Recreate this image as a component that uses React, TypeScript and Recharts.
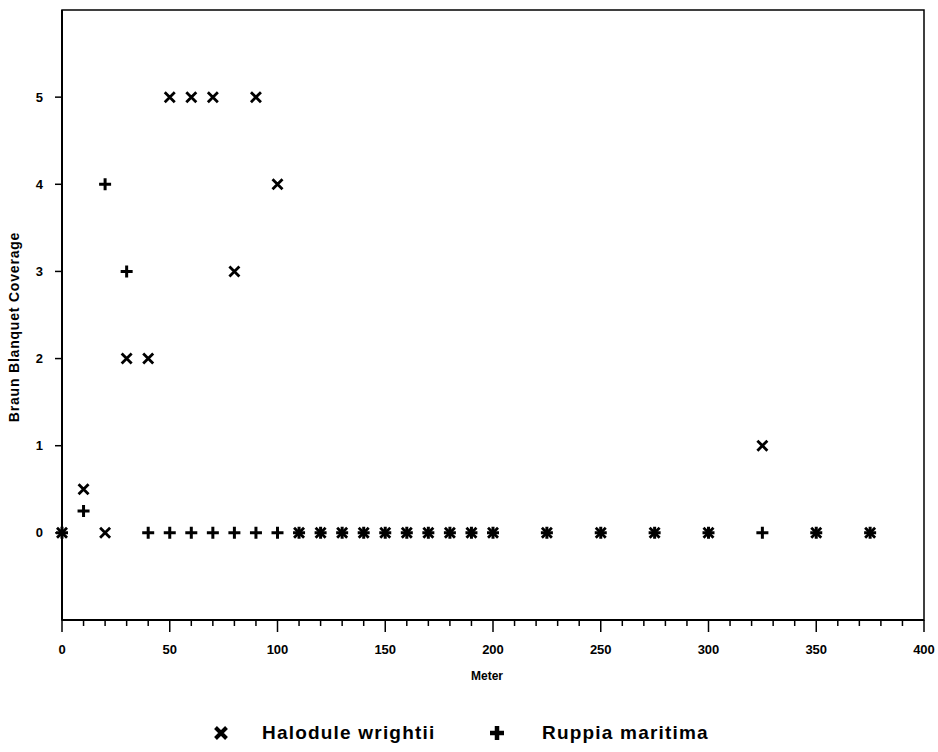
import React from "react";
import {
  ScatterChart,
  Scatter,
  XAxis,
  YAxis,
  ReferenceArea,
  Legend,
} from "recharts";

// transect positions (m) and Braun-Blanquet cover scores
const meters = [0, 10, 20, 30, 40, 50, 60, 70, 80, 90, 100, 110, 120, 130, 140, 150, 160, 170, 180, 190, 200, 225, 250, 275, 300, 325, 350, 375];
const halodule = [0, 0.5, 0, 2, 2, 5, 5, 5, 3, 5, 4, 0, 0, 0, 0, 0, 0, 0, 0, 0, 0, 0, 0, 0, 0, 1, 0, 0];
const ruppia = [0, 0.25, 4, 3, 0, 0, 0, 0, 0, 0, 0, 0, 0, 0, 0, 0, 0, 0, 0, 0, 0, 0, 0, 0, 0, 0, 0, 0];

const xTicks = Array.from({ length: 41 }, (_, i) => i * 10);
const yTicks = [0, 1, 2, 3, 4, 5];

const haloduleData = meters.map((m, i) => ({ meter: m, cover: halodule[i] }));
const ruppiaData = meters.map((m, i) => ({ meter: m, cover: ruppia[i] }));

const FONT = "'Liberation Sans', Arial, sans-serif";

const Cross = ({ cx, cy, r = 5, w = 2.8 }: any) => (
  <path
    d={`M${cx - r},${cy - r}L${cx + r},${cy + r}M${cx - r},${cy + r}L${cx + r},${cy - r}`}
    stroke="#000"
    strokeWidth={w}
    fill="none"
  />
);

const Plus = ({ cx, cy, r = 6, w = 3 }: any) => (
  <path
    d={`M${cx - r},${cy}L${cx + r},${cy}M${cx},${cy - r}L${cx},${cy + r}`}
    stroke="#000"
    strokeWidth={w}
    fill="none"
  />
);

const XTick = ({ x, y, payload }: any) => {
  const major = payload.value % 50 === 0;
  return (
    <g>
      <line x1={x} x2={x} y1={y} y2={y + (major ? 12 : 6)} stroke="#000" strokeWidth={1.5} />
      {major && (
        <text x={x} y={y + 34} textAnchor="middle" fontSize={13} fontWeight="bold" fontFamily={FONT} fill="#000">
          {payload.value}
        </text>
      )}
    </g>
  );
};

const LegendContent = () => (
  <div
    style={{
      display: "flex",
      justifyContent: "flex-start",
      fontFamily: FONT,
      fontWeight: "bold",
      fontStyle: "normal",
      fontSize: 19,
      lineHeight: "22px",
      paddingTop: 42,
      paddingLeft: 213,
      color: "#000",
    }}
  >
    <div style={{ display: "flex", alignItems: "center", width: 276 }}>
      <svg width={16} height={16} style={{ marginRight: 33 }}>
        <Cross cx={8} cy={8} r={5.5} w={4} />
      </svg>
      <span style={{ letterSpacing: 1.2 }}>Halodule wrightii</span>
    </div>
    <div style={{ display: "flex", alignItems: "center" }}>
      <svg width={16} height={16} style={{ marginRight: 37 }}>
        <Plus cx={8} cy={8} r={7} w={4.5} />
      </svg>
      <span style={{ letterSpacing: 1.2 }}>Ruppia maritima</span>
    </div>
  </div>
);

export default function App() {
  return (
    <div style={{ position: "absolute", left: 0, top: 0, background: "#fff" }}>
      <ScatterChart width={938} height={752} margin={{ top: 10, right: 14, left: 0, bottom: 0 }}>
        <XAxis
          type="number"
          dataKey="meter"
          domain={[0, 400]}
          ticks={xTicks}
          interval={0}
          tick={<XTick />}
          tickLine={false}
          tickSize={0}
          tickMargin={0}
          axisLine={{ stroke: "#000", strokeWidth: 2 }}
          height={60}
          label={{
            content: ({ viewBox }: any) => (
              <text
                x={viewBox.x + viewBox.width / 2 - 6}
                y={viewBox.y + 60}
                textAnchor="middle"
                fontSize={12}
                fontWeight="bold"
                fontFamily={FONT}
              >
                Meter
              </text>
            ),
          }}
        />
        <YAxis
          type="number"
          dataKey="cover"
          domain={[-1, 6]}
          ticks={yTicks}
          interval={0}
          width={62}
          tickSize={7}
          tickMargin={12}
          tickLine={{ stroke: "#000", strokeWidth: 1.5 }}
          axisLine={{ stroke: "#000", strokeWidth: 2 }}
          tick={{ fill: "#000", fontSize: 13, fontWeight: "bold", fontFamily: FONT }}
          label={{
            content: ({ viewBox }: any) => {
              const cx = viewBox.x + 19;
              const cy = viewBox.y + viewBox.height / 2 + 12;
              return (
                <text
                  transform={`translate(${cx},${cy}) rotate(-90)`}
                  textAnchor="middle"
                  fontSize={14}
                  fontWeight="bold"
                  fontFamily={FONT}
                  letterSpacing={0.8}
                >
                  Braun Blanquet Coverage
                </text>
              );
            },
          }}
        />
        <ReferenceArea x1={0} x2={400} y1={-1} y2={6} fill="none" stroke="#000" strokeWidth={1.5} />
        <Legend verticalAlign="bottom" height={72} content={<LegendContent />} />
        <Scatter name="Halodule wrightii" data={haloduleData} shape={<Cross />} isAnimationActive={false} />
        <Scatter name="Ruppia maritima" data={ruppiaData} shape={<Plus />} isAnimationActive={false} />
      </ScatterChart>
    </div>
  );
}
